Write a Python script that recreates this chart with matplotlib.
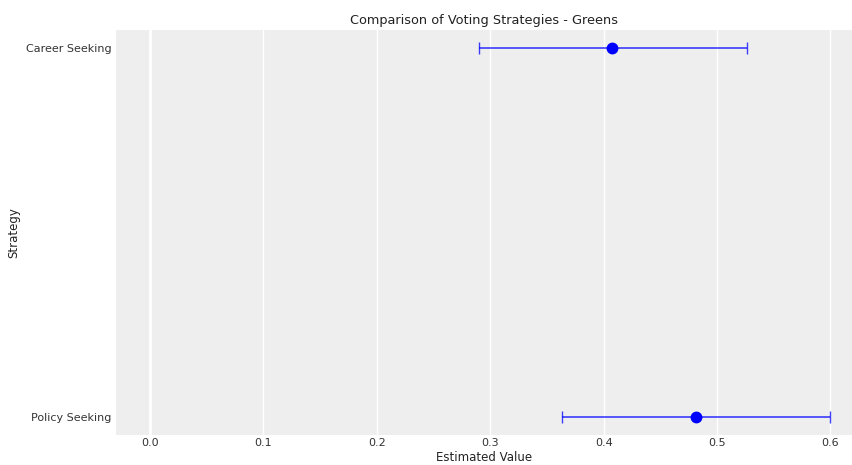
import matplotlib
matplotlib.use("Agg")
import matplotlib.pyplot as plt

strategies = ["Career Seeking", "Policy Seeking"]
estimates = [0.407, 0.481]
lower = [0.290, 0.363]
upper = [0.526, 0.600]

fig = plt.figure(figsize=(8.52, 4.65), dpi=100)
ax = fig.add_axes([116 / 852, 30 / 465, 1 - 116 / 852, 405 / 465])
ax.set_facecolor("#EEEEEE")
for s in ax.spines.values():
    s.set_visible(False)

ypos = list(range(len(strategies)))
xerr = [[e - l for e, l in zip(estimates, lower)],
        [u - e for e, u in zip(estimates, upper)]]
ax.errorbar(estimates, ypos, xerr=xerr, fmt="none", ecolor="blue",
            elinewidth=1.2, capsize=4, capthick=1.0, alpha=0.75, zorder=3)
ax.plot(estimates, ypos, "o", color="blue", markersize=7.5, zorder=4)
ax.axvline(0, color="white", lw=2, zorder=1)

ax.set_xlim(-0.03, 0.619)
ax.set_ylim(-0.05, 1.05)
ax.invert_yaxis()
ax.set_yticks(ypos)
ax.set_yticklabels(strategies)
ax.set_xticks([0.0, 0.1, 0.2, 0.3, 0.4, 0.5, 0.6])
ax.xaxis.grid(True, color="white", lw=1.0)
ax.yaxis.grid(False)
ax.set_axisbelow(True)
ax.tick_params(length=0, labelsize=8, colors="#333333")
ax.tick_params(axis="x", pad=2)
ax.tick_params(axis="y", pad=3)

ax.set_title("Comparison of Voting Strategies - Greens", fontsize=9.3, color="#222222", pad=4)
ax.set_xlabel("Estimated Value", fontsize=8.5, color="#222222", labelpad=2)
ax.set_ylabel("Strategy", fontsize=8.5, color="#222222", labelpad=4)

fig.savefig("out.png", dpi=100)
